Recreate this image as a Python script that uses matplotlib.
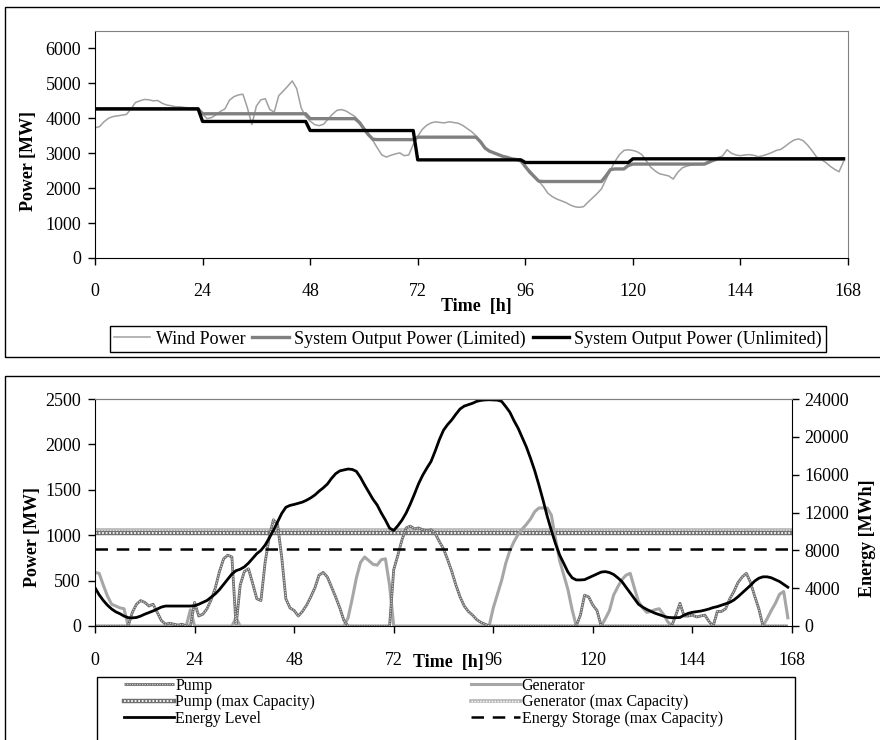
import matplotlib
matplotlib.use("Agg")
import matplotlib.pyplot as plt
from matplotlib.patches import Rectangle
import numpy as np

plt.rcParams['font.family'] = ['Liberation Serif', 'DejaVu Serif']
plt.rcParams['font.size'] = 13

# ---- data (hourly) ----
hours = np.arange(168)
xticks = [0, 24, 48, 72, 96, 120, 144, 168]

wind = [3730, 3760, 3900, 4000, 4050, 4070, 4090, 4110, 4260, 4450, 4500, 4540,
        4530, 4500, 4510, 4430, 4380, 4360, 4330, 4330, 4310, 4300, 4300, 4270,
        4120, 3990, 4020, 4100, 4200, 4270, 4520, 4620, 4670, 4690, 4300, 3820,
        4350, 4530, 4560, 4250, 4180, 4650, 4780, 4920, 5070, 4850, 4300, 4050,
        3920, 3820, 3790, 3830, 3980, 4120, 4230, 4250, 4210, 4130, 4050, 3900,
        3730, 3550, 3360, 3150, 2950, 2890, 2940, 2980, 3010, 2930, 2950, 3250,
        3480, 3680, 3800, 3870, 3900, 3880, 3870, 3900, 3880, 3860, 3800, 3710,
        3620, 3500, 3330, 3140, 3060, 3020, 2960, 2910, 2880, 2840, 2820, 2740,
        2610, 2500, 2350, 2200, 2050, 1860, 1760, 1690, 1640, 1590, 1520, 1470,
        1450, 1470, 1600, 1720, 1840, 1980, 2250, 2520, 2760, 2960, 3080, 3100,
        3080, 3040, 2960, 2780, 2600, 2490, 2410, 2380, 2350, 2260, 2450, 2580,
        2630, 2660, 2670, 2670, 2680, 2720, 2790, 2880, 2920, 3100, 3000, 2950,
        2930, 2950, 2960, 2940, 2900, 2930, 2970, 3020, 3080, 3110, 3200, 3300,
        3380, 3410, 3360, 3230, 3070, 2890, 2820, 2740, 2630, 2540, 2470, 2760]

limited = ([4270] * 24 + [4130] * 24 + [3990] * 11 + [3880, 3700, 3530, 3400]
           + [3390] * 9 + [3460] * 14
           + [3330, 3150, 3060, 3010, 2960, 2910, 2880, 2840, 2820, 2800]
           + [2620, 2460, 2330, 2200] + [2190] * 14
           + [2350, 2530, 2550, 2550, 2550, 2650] + [2690] * 17
           + [2750, 2800] + [2840] * 29)

unlimited = [4270] * 24 + [3910] * 24 + [3650] * 24 + [2810] * 24 + [2735] * 24 + [2840] * 48

pump = [0, 0, 0, 0, 0, 0, 0, 0, 0, 150, 240, 280,
        260, 220, 240, 150, 60, 20, 30, 20, 10, 20, 0, 0,
        260, 110, 130, 190, 290, 420, 600, 740, 780, 760, 0, 450,
        600, 630, 470, 300, 280, 700, 980, 1170, 1120, 760, 300, 200,
        170, 110, 160, 230, 320, 420, 560, 590, 540, 430, 320, 200,
        60, 0, 0, 0, 0, 0, 0, 0, 0, 0, 0, 0,
        620, 780, 950, 1080, 1100, 1070, 1080, 1060, 1050, 1060, 1020, 930,
        850, 730, 600, 450, 320, 220, 160, 120, 70, 40, 20, 0,
        0, 0, 0, 0, 0, 0, 0, 0, 0, 0, 0, 0,
        0, 0, 0, 0, 0, 0, 0, 0, 0, 120, 340, 320,
        230, 170, 0, 0, 0, 0, 0, 0, 0, 0, 0, 0,
        0, 0, 0, 0, 0, 0, 0, 0, 120, 250, 110, 110,
        120, 100, 110, 120, 50, 0, 160, 160, 190, 300, 380, 480,
        540, 580, 480, 330, 190, 0, 0, 0, 0, 0, 0, 0]

generator = [590, 580, 450, 330, 240, 220, 200, 190, 0, 0, 0, 0,
             0, 0, 0, 0, 0, 0, 0, 0, 0, 0, 0, 180,
             0, 0, 0, 0, 0, 0, 0, 0, 0, 0, 90, 0,
             0, 0, 0, 0, 0, 0, 0, 0, 0, 0, 0, 0,
             0, 0, 0, 0, 0, 0, 0, 0, 0, 0, 0, 0,
             0, 90, 300, 530, 700, 760, 720, 680, 670, 730, 740, 450,
             0, 0, 0, 0, 0, 0, 0, 0, 0, 0, 0, 0,
             0, 0, 0, 0, 0, 0, 0, 0, 0, 0, 0, 0,
             200, 350, 500, 690, 830, 930, 1010, 1070, 1120, 1180, 1260, 1300,
             1300, 1300, 1220, 960, 720, 560, 400, 180, 0, 0, 0, 0,
             0, 0, 0, 80, 170, 340, 430, 510, 560, 580, 420, 270,
             200, 150, 160, 180, 190, 130, 50, 0, 0, 0, 0, 0,
             0, 0, 0, 0, 0, 0, 0, 0, 0, 0, 0, 0,
             0, 0, 0, 0, 0, 0, 80, 170, 250, 350, 380, 90]

energy = [4050, 3300, 2700, 2200, 1800, 1500, 1300, 1050, 880, 860, 900, 1050,
          1250, 1420, 1590, 1800, 2000, 2110, 2110, 2110, 2110, 2110, 2110, 2110,
          2150, 2300, 2500, 2700, 3050, 3400, 3850, 4400, 4950, 5500, 5850, 6000,
          6250, 6650, 7150, 7650, 8000, 8550, 9300, 10100, 11000, 11900, 12550, 12750,
          12850, 12970, 13100, 13300, 13550, 13850, 14250, 14600, 15000, 15600, 16100, 16400,
          16500, 16600, 16550, 16350, 15700, 14900, 14150, 13400, 12800, 11950, 11200, 10350,
          10100, 10600, 11200, 11950, 12900, 13950, 15050, 15950, 16700, 17400, 18500, 19700,
          20700, 21300, 21800, 22400, 22950, 23250, 23400, 23550, 23750, 23850, 23900, 23920,
          23900, 23880, 23750, 23200, 22600, 21700, 20900, 19900, 18900, 17700, 16400, 14900,
          13300, 11600, 10100, 8700, 7500, 6600, 5700, 5100, 4870, 4870, 4900, 5100,
          5300, 5500, 5700, 5750, 5650, 5450, 5100, 4700, 4100, 3500, 2900, 2300,
          2000, 1750, 1550, 1350, 1200, 1050, 920, 880, 880, 900, 1150, 1340,
          1450, 1520, 1580, 1680, 1800, 1950, 2050, 2200, 2350, 2500, 2750, 3100,
          3500, 3900, 4300, 4750, 5050, 5200, 5200, 5100, 4900, 4700, 4400, 4100]

pump_max = 1025
gen_max = 1055
storage_max = 8150

W, H = 880, 740
fig = plt.figure(figsize=(W / 100, H / 100), dpi=100)


def fx(px):
    return px / W


def fy(py):
    return 1 - py / H


# panel frames
fig.patches.append(Rectangle((fx(5), fy(357)), 1.0, fy(7) - fy(357), fill=False,
                             lw=1, ec='black', transform=fig.transFigure))
fig.patches.append(Rectangle((fx(5), -0.05), 1.0, fy(376) + 0.05, fill=False,
                             lw=1, ec='black', transform=fig.transFigure))


def style_axis(ax, pad_x):
    ax.set_xlim(0, 168)
    ax.set_xticks(xticks)
    ax.tick_params(axis='x', direction='out', length=5, width=1, pad=pad_x)
    ax.tick_params(axis='y', direction='out', length=5, width=1, pad=5)
    ax.spines['top'].set_color('#808080')
    ax.spines['right'].set_color('#808080')


# ---- top chart ----
ax1 = fig.add_axes([fx(95), fy(258), fx(848 - 95), fy(31) - fy(258)])
l_wind, = ax1.plot(hours, wind, color='#a0a0a0', lw=1.1)
l_lim, = ax1.plot(hours, limited, color='#808080', lw=2.4)
l_unl, = ax1.plot(hours, unlimited, color='black', lw=2.4)
ax1.set_ylim(0, 6500)
ax1.set_yticks(range(0, 6001, 1000))
style_axis(ax1, 13)
fig.text(fx(28), fy(161), 'Power [MW]', rotation=90, ha='center', va='center',
         fontweight='bold')
fig.text(fx(476), fy(307), 'Time  [h]', ha='center', va='center', fontweight='bold')
leg1 = fig.legend([l_wind, l_lim, l_unl],
                  ['Wind Power', 'System Output Power (Limited)',
                   'System Output Power (Unlimited)'],
                  ncol=3, loc='center', bbox_to_anchor=(fx(468), fy(339)),
                  frameon=True, fancybox=False, edgecolor='black', framealpha=1,
                  borderpad=0.25, handlelength=2.0, handletextpad=0.3,
                  columnspacing=0.4, borderaxespad=0)
leg1.get_frame().set_linewidth(1.0)

# ---- bottom chart ----
ax2 = fig.add_axes([fx(95), fy(626), fx(792 - 95), fy(399) - fy(626)])
ax3 = ax2.twinx()


def hatched(ax, y, base, dots, lw):
    a, = ax.plot(hours, y, color=base, lw=lw, solid_capstyle='butt')
    b, = ax.plot(hours, y, color=dots, lw=lw * 0.45, ls=(0, (1, 1)))
    return (a, b)


def hatched_h(ax, y, base, dots, lw):
    a = ax.axhline(y, color=base, lw=lw)
    b = ax.axhline(y, color=dots, lw=lw * 0.4, ls=(0, (1, 1)))
    return (a, b)


h_gmax = hatched_h(ax2, gen_max, '#b4b4b4', 'white', 2.6)
h_pmax = hatched_h(ax2, pump_max, '#707070', 'white', 3.2)
h_gen, = ax2.plot(hours, generator, color='#a6a6a6', lw=2.2)
h_pump = hatched(ax2, pump, '#6a6a6a', '#cfcfcf', 2.0)
ax2.set_ylim(0, 2500)
ax2.set_yticks(range(0, 2501, 500))
style_axis(ax2, 14)
ax2.spines['right'].set_visible(False)

h_smax = ax3.axhline(storage_max, color='black', lw=1.8, ls=(0, (5, 3.5)))
h_energy, = ax3.plot(hours, energy, color='black', lw=2.0)
ax3.set_ylim(0, 24000)
ax3.set_yticks(range(0, 24001, 4000))
ax3.tick_params(axis='y', direction='out', length=5, width=1, pad=4)
ax3.spines['top'].set_color('#808080')
ax3.spines['left'].set_visible(False)
ax3.spines['bottom'].set_visible(False)

fig.text(fx(33), fy(537), 'Power [MW]', rotation=90, ha='center', va='center',
         fontweight='bold')
fig.text(fx(867), fy(538), 'Energy [MWh]', rotation=90, ha='center', va='center',
         fontweight='bold')
fig.text(fx(448), fy(663), 'Time  [h]', ha='center', va='center', fontweight='bold')

fig.patches.append(Rectangle((fx(97), -0.05), fx(795 - 97), fy(677) + 0.05, fill=False,
                             lw=1, ec='black', transform=fig.transFigure))
leg2 = fig.legend([h_pump, h_pmax, h_energy, h_gen, h_gmax, h_smax],
                  ['Pump', 'Pump (max Capacity)', 'Energy Level',
                   'Generator', 'Generator (max Capacity)', 'Energy Storage (max Capacity)'],
                  ncol=2, loc='upper left', bbox_to_anchor=(fx(124), fy(678)),
                  frameon=False, fontsize=11.5, handlelength=3.1, handletextpad=0.1,
                  columnspacing=9.75, labelspacing=0.02, borderaxespad=0, borderpad=0)

fig.savefig('out.png', dpi=100)
